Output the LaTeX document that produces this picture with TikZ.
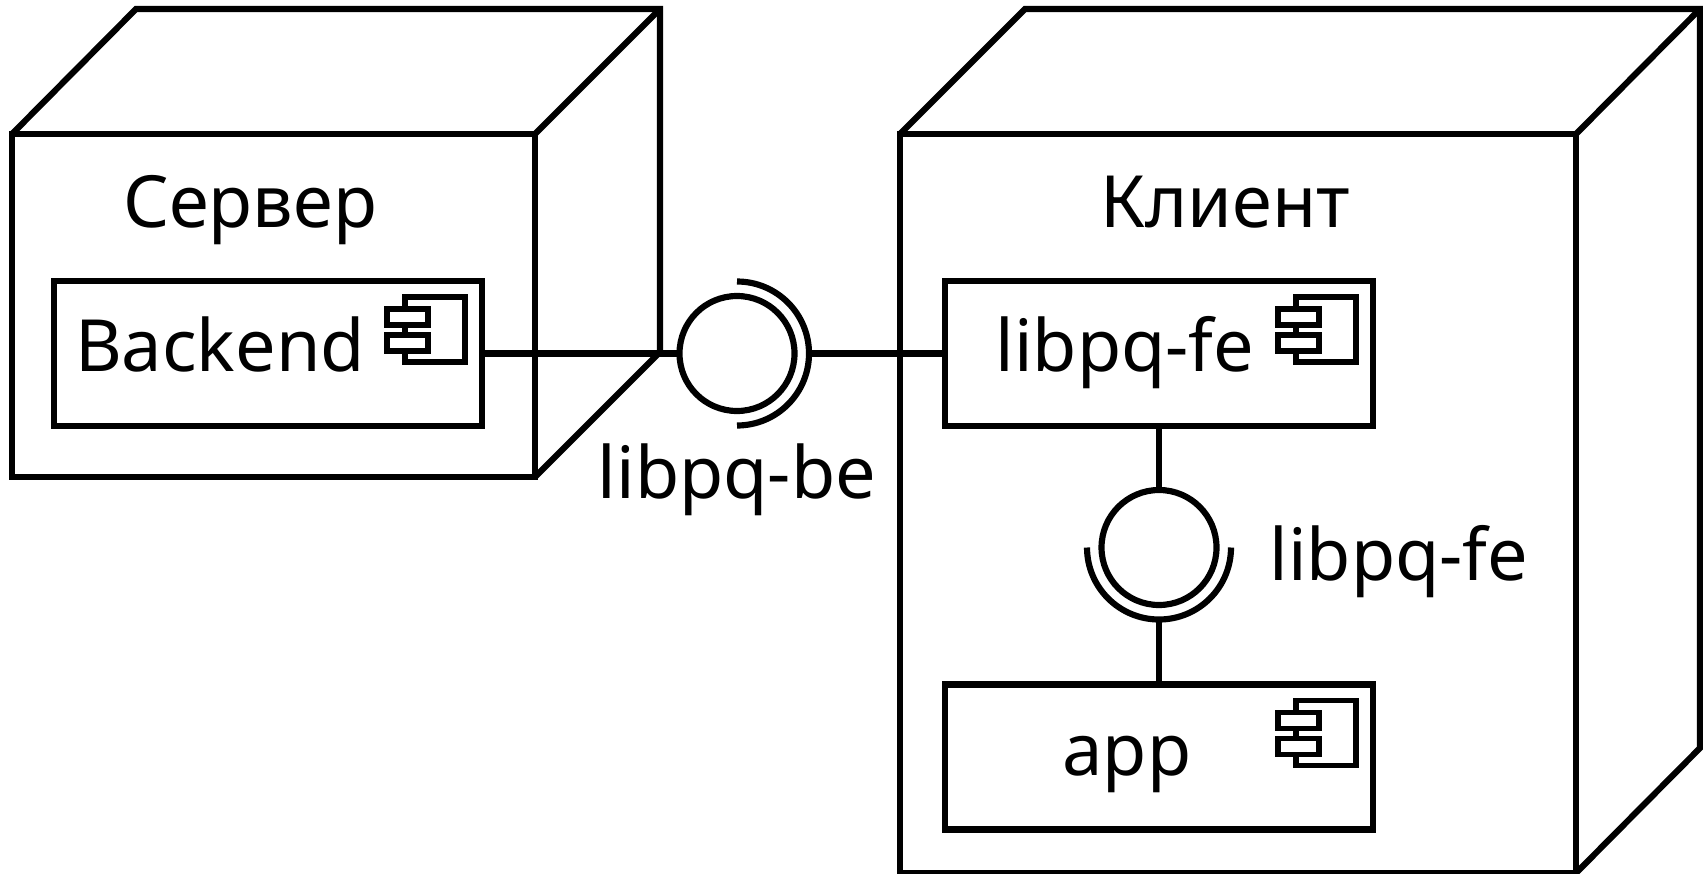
\documentclass[tikz,border=0pt]{standalone}
\usepackage{fontspec}
\setmainfont{Noto Sans}
\tikzset{
	umlline/.style={line width=3.5pt},
	compbox/.style={draw,umlline,rectangle,minimum width=85.6mm,minimum height=29mm,inner sep=0pt,outer sep=0pt},
	iface/.style={draw,umlline,circle,minimum size=23mm,inner sep=0pt,outer sep=0pt},
	socket/.style={circle,minimum size=28.8mm,inner sep=0pt,outer sep=0pt},
	lbl/.style={anchor=base,inner sep=0pt,font=\fontsize{41}{49}\selectfont},
	compicon/.pic={
		\draw[line width=3.2pt] (-77,16) rectangle (-17,81);
		\draw[line width=3.2pt,fill=white] (-95,28) rectangle (-54,44);
		\draw[line width=3.2pt,fill=white] (-95,54) rectangle (-54,70);
	}
}
\begin{document}
\begin{tikzpicture}[x=0.2mm,y=-0.2mm]
		\useasboundingbox (0,0) rectangle (1703,873);

		% Draw server cube.
		\coordinate (srva) at (12,134);		\coordinate (srvb) at (535,134);		\coordinate (srvc) at (535,477);		\coordinate (srvd) at (12,477);
		\coordinate (srve) at (136,9);		\coordinate (srvf) at (660,9);		\coordinate (srvg) at (660,352);
		\draw[umlline] (srva) -- (srvb) -- (srvc) -- (srvd) -- cycle;
		\draw[umlline] (srva) -- (srve) -- (srvf) -- (srvg) -- (srvc);
		\draw[umlline] (srvb) -- (srvf);

		% Draw client cube.
		\coordinate (clia) at (900,134);		\coordinate (clib) at (1576,134);		\coordinate (clic) at (1576,873);		\coordinate (clid) at (900,873);
		\coordinate (clie) at (1025,9);		\coordinate (clif) at (1700,9);		\coordinate (clig) at (1700,748);
		\draw[umlline] (clia) -- (clib) -- (clic) -- (clid) -- cycle;
		\draw[umlline] (clia) -- (clie) -- (clif) -- (clig) -- (clic);
		\draw[umlline] (clib) -- (clif);

		% Draw components.
		\node[compbox] (backend) at (268.25,353.5) {};
		\node[compbox] (libfe) at (1159,353.5) {};
		\node[compbox] (app) at (1159,757) {};
		\pic (iconbe) at (backend.north east) {compicon};
		\pic (iconfe) at (libfe.north east) {compicon};
		\pic (iconapp) at (app.north east) {compicon};

		% Draw interfaces.
		\node[iface] (ifacebe) at (737,353.5) {};
		\node[socket] (socketbe) at (737,353.5) {};
		\node[iface] (ifacefe) at (1159,547.5) {};
		\node[socket] (socketfe) at (1159,547.5) {};
		\draw[umlline] (socketbe.north) arc[start angle=90,end angle=-90,radius=14.4mm];
		\draw[umlline] (socketfe.west) arc[start angle=180,end angle=360,radius=14.4mm];

		% Connect components and interfaces.
		\draw[umlline] (backend) -- (ifacebe);
		\draw[umlline] (socketbe.east) -- (libfe);
		\draw[umlline] (libfe) -- (ifacefe);
		\draw[umlline] (socketfe.south) -- (app);

		% Draw labels.
		\node[lbl] (srvlbl) at (250,227) {Сервер};
		\node[lbl] (clilbl) at (1225,227) {Клиент};
		\node[lbl] (belbl) at (220,371) {Backend};
		\node[lbl] (felbl) at (1125,371) {libpq-fe};
		\node[lbl] (applbl) at (1127,775) {app};
		\node[lbl] (ifbelbl) at (737,498) {libpq-be};
		\node[lbl] (iffelbl) at (1399,580) {libpq-fe};
	\end{tikzpicture}
\end{document}
